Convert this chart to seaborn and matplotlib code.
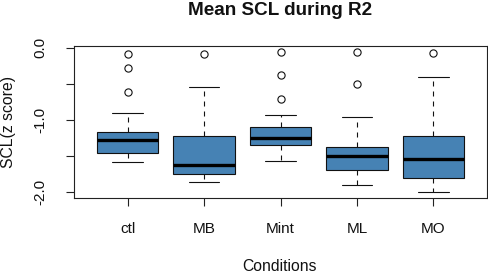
import numpy as np
import pandas as pd
import seaborn as sns
import matplotlib.pyplot as plt

conditions = ["ctl", "MB", "Mint", "ML", "MO"]

ctl = [-1.59, -1.55, -1.52, -1.49, -1.46, -1.42, -1.37, -1.32, -1.28,
       -1.25, -1.22, -1.20, -1.175, -0.91, -0.615, -0.28, -0.09]
mb = [-1.865, -1.83, -1.80, -1.77, -1.75, -1.72, -1.69, -1.66, -1.63,
      -1.52, -1.40, -1.30, -1.22, -1.05, -0.80, -0.546, -0.09]
mint = [-1.575, -1.50, -1.44, -1.39, -1.35, -1.32, -1.29, -1.27, -1.26,
        -1.21, -1.16, -1.13, -1.105, -0.935, -0.71, -0.375, -0.055]
ml = [-1.905, -1.85, -1.79, -1.74, -1.695, -1.64, -1.58, -1.53, -1.50,
      -1.46, -1.42, -1.39, -1.375, -1.20, -0.96, -0.51, -0.055]
mo = [-2.0, -1.95, -1.90, -1.85, -1.81, -1.72, -1.65, -1.59, -1.54,
      -1.45, -1.37, -1.30, -1.23, -1.00, -0.75, -0.405, -0.07]

y_ticks = [0.0, -0.5, -1.0, -1.5, -2.0]
y_tick_labels = ["0.0", "", "-1.0", "", "-2.0"]

groups = [ctl, mb, mint, ml, mo]
df = pd.DataFrame({
    "Condition": np.concatenate([[c] * len(g) for c, g in zip(conditions, groups)]),
    "SCL": np.concatenate(groups),
})

sns.set_style("white")
plt.rcParams['font.family'] = ['Liberation Sans', 'DejaVu Sans']
plt.rcParams['lines.scale_dashes'] = False

fig = plt.figure(figsize=(4.89, 2.73), dpi=100)
ax = fig.add_axes([74 / 489, 1 - 198 / 273, 413 / 489, 152 / 273])

sns.boxplot(
    data=df, x="Condition", y="SCL", order=conditions,
    color="#4682B4", saturation=1, width=0.8, whis=1.5,
    linecolor="#111111", linewidth=0.8, ax=ax,
    flierprops=dict(marker='o', markerfacecolor='none',
                    markeredgecolor='#111111', markersize=5.2,
                    markeredgewidth=0.8),
    medianprops=dict(linewidth=2.4, color='black'),
    whiskerprops=dict(linestyle=(0, (3.6, 3.6)), linewidth=0.8),
    capprops=dict(linewidth=0.8),
)

ax.set_xlim(-0.7, 4.7)
ax.set_ylim(-2.0875, 0.0236)
ax.set_yticks(y_ticks)
ax.set_yticklabels(y_tick_labels)
ax.set_xlabel("")
ax.set_ylabel("")

for s in ax.spines.values():
    s.set_color("#222222")
    s.set_linewidth(0.8)

ax.tick_params(axis='both', which='both', direction='out', length=6,
               width=0.8, color='#222222', labelsize=11, labelcolor='#111111',
               left=True, bottom=True)
ax.tick_params(axis='x', pad=11)
ax.tick_params(axis='y', pad=13)
for lab in ax.get_yticklabels():
    lab.set_rotation(90)
    lab.set_va('center')

fig.text(280.5 / 489, 1 - 15 / 273, "Mean SCL during R2", ha='center',
         va='baseline', fontsize=13.6, fontweight='bold', color='#111111')
fig.text(280 / 489, 1 - 271 / 273, "Conditions", ha='center',
         va='baseline', fontsize=11.3, color='#111111')
fig.text(9 / 489, 1 - 122 / 273, "SCL(z score)", ha='center', va='center',
         rotation=90, fontsize=11.3, color='#111111')

fig.savefig("out.png", dpi=100)
